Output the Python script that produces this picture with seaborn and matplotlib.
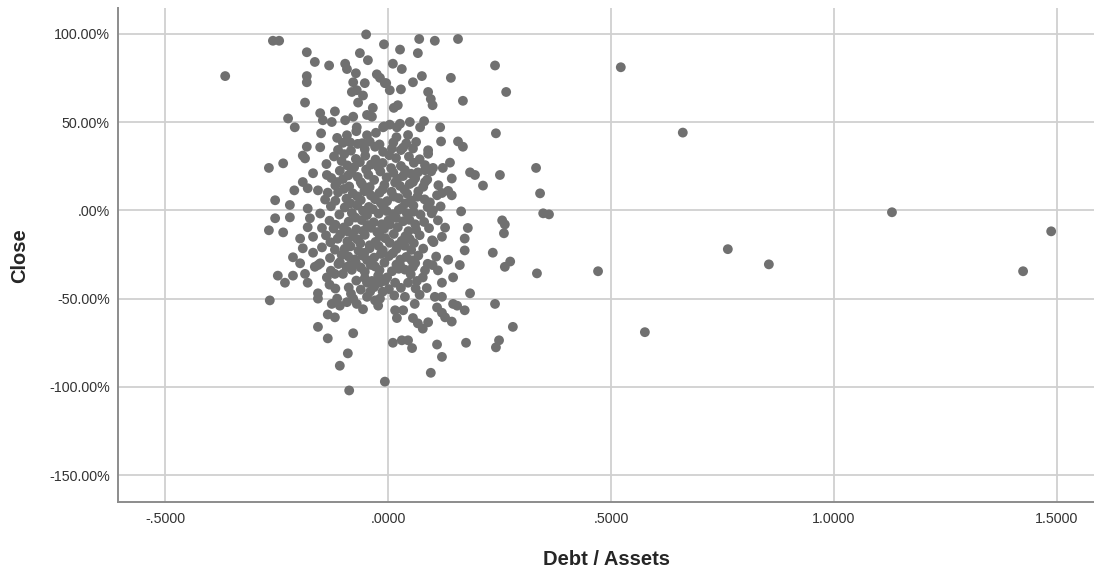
import matplotlib
matplotlib.use("Agg")
import matplotlib.pyplot as plt
import seaborn as sns
import pandas as pd
from matplotlib.ticker import FuncFormatter

# (Debt / Assets, Close %)
upper_pts = [
    (-0.365, 76), (-0.258, 96), (-0.244, 96), (-0.049, 99.6), (-0.009, 94), (0.070, 97),
    (0.105, 96), (0.157, 97), (0.027, 91), (0.067, 89), (-0.182, 89.5), (-0.164, 84),
    (-0.132, 82), (-0.096, 83), (-0.092, 80), (-0.063, 89), (-0.045, 85), (-0.072, 77.6),
    (-0.078, 72.5), (-0.052, 72), (-0.070, 68), (-0.056, 65), (-0.081, 67), (-0.067, 61),
    (-0.025, 77), (-0.007, 72), (-0.182, 76), (-0.182, 72.5), (-0.186, 61), (-0.152, 55),
    (-0.146, 51), (-0.119, 56), (-0.126, 50), (-0.224, 52), (-0.209, 47), (-0.096, 51),
    (-0.078, 53), (-0.070, 47), (-0.047, 54), (-0.034, 58), (-0.036, 53), (-0.150, 43.6),
    (-0.114, 41), (-0.092, 42.5), (-0.085, 38.5), (-0.047, 42.5), (-0.058, 38), (-0.029, 36),
    (-0.009, 47.5), (-0.182, 36), (-0.152, 35.7),
    (0.240, 82), (0.265, 67), (0.168, 62), (0.242, 43.6), (0.141, 75), (0.011, 83),
    (0.031, 80), (0.076, 76), (0.056, 72.5), (0.029, 68.5), (0.090, 67), (0.096, 63),
    (0.100, 59.5), (0.013, 58), (0.022, 59.5), (-0.004, 72), (0.004, 68), (-0.018, 75),
    (-0.011, 47), (0.004, 48.5), (0.020, 47), (0.027, 49), (0.049, 50), (0.072, 47),
    (0.081, 50.5), (0.117, 47), (0.119, 39), (0.157, 39), (0.168, 36), (0.009, 35),
    (0.034, 35.5), (0.056, 35), (0.090, 34),
]

right_pts = [
    (0.251, 20), (0.184, 21.5), (0.195, 20), (0.213, 14), (0.143, 18), (0.135, 11),
    (0.143, 8.5), (0.164, -0.6), (0.256, -5.7), (0.262, -8), (0.260, -13), (0.179, -10),
    (0.172, -16), (0.172, -22.7), (0.112, -5.7), (0.099, -17), (0.121, -15), (0.235, -24),
    (0.274, -29), (0.135, -28), (0.161, -31), (0.090, 32), (0.139, 27), (0.123, 24),
    (0.101, 24), (0.083, 22.7), (0.067, 21.5), (0.056, 16), (0.083, 16), (0.110, 8.5),
    (0.094, 4.5), (0.101, 0),
    (0.184, -47), (0.262, -32), (0.240, -53), (0.280, -66), (0.249, -73.6), (0.242, -77.6),
    (0.175, -75), (0.110, -76), (0.121, -83), (0.096, -92), (-0.007, -97), (0.172, -56.6),
    (0.146, -53), (0.155, -54), (0.143, -63), (0.146, -38), (0.121, -41), (0.112, -34),
    (0.100, -31), (0.011, -75), (0.031, -73.6), (0.045, -73.6), (0.054, -78), (0.056, -61),
    (0.067, -64), (0.078, -67), (0.090, -63.4), (0.016, -56.6), (0.020, -61), (0.034, -56.6),
    (0.038, -49), (0.060, -53), (0.105, -49), (0.121, -49), (0.110, -55), (0.128, -60.6),
    (0.121, -58), (-0.018, -50), (-0.018, -41), (-0.002, -38), (0.016, -41), (0.045, -41),
    (0.065, -40), (0.078, -38), (0.087, -44), (0.083, -34), (0.056, -32), (0.027, -31),
]

left_pts = [
    (-0.191, 31), (-0.186, 29.4), (-0.267, 24), (-0.235, 26.6), (-0.168, 21), (-0.137, 20),
    (-0.114, 16), (-0.191, 16), (-0.210, 11.3), (-0.180, 12.5), (-0.157, 11.3), (-0.135, 10),
    (-0.253, 5.7), (-0.220, 3), (-0.253, -4.5), (-0.220, -4), (-0.180, 1), (-0.175, -4.5),
    (-0.267, -11.3), (-0.235, -12.5), (-0.197, -16), (-0.180, -9.6), (-0.168, -15), (-0.148, -10),
    (-0.191, -21.5), (-0.213, -26.6), (-0.197, -30), (-0.168, -24), (-0.148, -21), (-0.130, -27),
    (-0.108, -29.4), (-0.157, -31),
    (-0.247, -37), (-0.231, -41), (-0.213, -37), (-0.265, -51), (-0.186, -36), (-0.180, -41),
    (-0.164, -32), (-0.152, -30), (-0.157, -47), (-0.157, -50), (-0.137, -38), (-0.119, -36),
    (-0.101, -36), (-0.085, -31), (-0.126, -53), (-0.114, -50), (-0.108, -54), (-0.092, -52),
    (-0.078, -50), (-0.070, -53), (-0.056, -56), (-0.047, -49), (-0.040, -46), (-0.029, -51),
    (-0.022, -54), (-0.047, -41), (-0.036, -40), (-0.022, -37), (-0.007, -40), (-0.135, -59),
    (-0.119, -60.6), (-0.157, -66), (-0.135, -72.5), (-0.078, -69.6), (-0.090, -81),
    (-0.108, -88), (-0.087, -102),
]

# dense middle, estimated
core_pts = [
    (-0.121, 30.5), (-0.098, 31.8), (-0.072, 29.1), (-0.051, 30.9), (-0.028, 28.7), (0.003, 31.2),
    (0.018, 29.6), (0.047, 30.4), (0.071, 28.9), (-0.138, 26.2), (-0.091, 25.4), (-0.063, 27.3),
    (-0.038, 25.9), (-0.012, 26.8), (0.029, 25.1), (0.058, 26.9), (0.083, 25.6), (-0.108, 22.4),
    (-0.082, 21.6), (-0.049, 23.1), (-0.017, 22.0), (0.012, 21.3), (0.038, 22.8), (0.052, 20.7),
    (0.097, 22.1), (-0.127, 18.3), (-0.101, 17.7), (-0.068, 18.9), (-0.031, 17.2), (-0.003, 18.6),
    (0.021, 17.9), (0.061, 18.1), (0.088, 17.4), (-0.118, 14.1), (-0.087, 13.5), (-0.058, 14.7),
    (-0.041, 13.2), (-0.008, 14.4), (0.027, 13.8), (0.049, 14.9), (0.079, 13.3), (0.113, 14.2),
    (-0.112, 10.2), (-0.079, 9.6), (-0.053, 10.8), (-0.019, 9.9), (0.008, 10.5), (0.043, 9.4),
    (0.068, 10.7), (0.121, 9.8), (-0.141, 6.1), (-0.118, 5.4), (-0.093, 6.6), (-0.061, 5.8),
    (-0.029, 6.3), (-0.002, 5.2), (0.024, 6.9), (0.051, 5.6), (0.082, 6.2), (-0.128, 2.3),
    (-0.097, 1.6), (-0.069, 2.8), (-0.043, 1.9), (-0.011, 2.5), (0.031, 1.4), (0.057, 2.7),
    (0.089, 1.8), (0.118, 2.2), (-0.152, -1.8), (-0.109, -2.4), (-0.081, -1.5), (-0.047, -2.7),
    (-0.021, -1.9), (0.011, -2.2), (0.042, -1.6), (0.073, -2.5), (0.098, -1.7), (-0.131, -5.9),
    (-0.088, -6.4), (-0.059, -5.5), (-0.032, -6.8), (0.001, -5.7), (0.034, -6.2), (0.048, -5.4),
    (0.081, -6.6), (-0.122, -10.3), (-0.099, -9.7), (-0.071, -10.8), (-0.038, -9.9), (-0.009, -10.4),
    (0.022, -9.6), (0.063, -10.9), (0.092, -10.1), (0.128, -9.8), (-0.139, -14.2), (-0.107, -13.6),
    (-0.078, -14.8), (-0.052, -13.9), (-0.018, -14.5), (0.013, -13.4), (0.039, -14.7), (0.071, -14.1),
    (-0.129, -18.1), (-0.091, -17.6), (-0.062, -18.7), (-0.028, -17.9), (0.004, -18.4), (0.031, -17.3),
    (0.058, -18.6), (0.102, -18.0), (-0.119, -22.3), (-0.097, -21.8), (-0.066, -22.9), (-0.041, -21.5),
    (-0.012, -22.6), (0.019, -21.9), (0.052, -22.4), (0.079, -21.7), (-0.089, -26.1), (-0.057, -25.7),
    (-0.031, -26.8), (0.002, -25.9), (0.041, -26.4), (0.068, -25.6), (0.108, -26.2), (-0.111, -30.4),
    (-0.072, -29.8), (-0.039, -30.9), (-0.008, -29.6), (0.019, -30.7), (0.061, -29.9), (0.089, -30.3),
    (-0.128, -34.2), (-0.081, -33.7), (-0.052, -34.8), (-0.019, -33.9), (0.009, -34.5), (0.038, -33.6),
    (-0.118, -44.3), (-0.088, -43.7), (-0.061, -44.9), (-0.031, -43.5), (0.002, -44.6), (0.029, -43.9),
    (0.062, -44.2), (-0.101, 38.2), (-0.068, 37.6), (-0.041, 38.9), (-0.019, 37.3), (0.012, 38.4),
    (0.041, 37.9), (0.063, 38.7),
]

core_extra_pts = [
    (-0.104, 27.9), (-0.076, 24.3), (-0.044, 20.1), (-0.022, 24.6), (0.007, 23.9), (0.034, 19.4),
    (-0.089, 19.8), (-0.061, 15.9), (-0.012, 11.8), (0.016, 15.7), (0.037, 11.6), (-0.099, 12.1),
    (-0.069, 7.9), (-0.038, 8.4), (-0.016, 4.1), (0.013, 7.8), (0.039, 3.9), (0.066, 7.7),
    (-0.084, 3.9), (-0.056, -0.3), (-0.034, 0.6), (-0.003, -0.4), (0.024, 0.2), (0.057, -0.8),
    (-0.118, -8.2), (-0.073, -4.1), (-0.046, -8.3), (-0.014, -7.9), (0.018, -4.3), (0.061, -7.9),
    (-0.091, -11.9), (-0.056, -11.7), (-0.024, -12.3), (0.004, -8.1), (0.046, -11.8), (-0.113, -16.1),
    (-0.069, -16.4), (-0.041, -19.8), (-0.006, -15.8), (0.022, -19.6), (0.049, -16.3), (-0.084, -20.4),
    (-0.053, -24.1), (-0.021, -20.2), (0.011, -24.3), (0.037, -20.1), (-0.104, -25.2), (-0.074, -27.8),
    (-0.047, -28.1), (-0.016, -24.7), (0.028, -27.9), (0.053, -28.3), (-0.093, -32.1), (-0.061, -32.4),
    (-0.029, -31.8), (0.024, -33.1), (-0.071, -39.8), (-0.012, -46.1), (0.014, -48.2), (-0.083, -47.2),
    (-0.052, -38.4), (0.051, -36.2), (0.071, -47.8), (-0.131, -42.1), (-0.083, 33.8), (-0.052, 34.6),
    (-0.011, 33.1), (0.029, 34.1), (-0.027, 43.9), (0.045, 42.6), (0.019, 41.4), (-0.071, 44.8),
    (-0.112, 34.2),
]

far_pts = [
    (0.332, 24), (0.341, 9.6), (0.348, -1.7), (0.361, -2.3), (0.334, -35.7), (0.471, -34.5),
    (0.522, 81), (0.576, -69), (0.661, 44), (0.762, -22), (0.854, -30.6), (1.130, -1.1),
    (1.424, -34.5), (1.487, -11.9),
]

x_ticks = [-0.5, 0.0, 0.5, 1.0, 1.5]
y_ticks = [-150, -100, -50, 0, 50, 100]

df = pd.DataFrame(upper_pts + right_pts + left_pts + core_pts + core_extra_pts + far_pts,
                  columns=["Debt / Assets", "Close"])

sns.set_theme(style="whitegrid")
plt.rcParams["font.family"] = ["Liberation Sans", "DejaVu Sans"]

fig = plt.figure(figsize=(10.94, 5.74), dpi=100)
ax = fig.add_axes([0.108, 0.125, 0.892, 0.8606])

sns.scatterplot(data=df, x="Debt / Assets", y="Close", ax=ax,
                color="#707070", s=50, edgecolor="none", linewidth=0)

ax.set_xlim(-0.605, 1.583)
ax.set_ylim(-165.3, 114.4)
ax.set_xticks(x_ticks)
ax.set_yticks(y_ticks)


def fmt_x(v, pos):
    s = f"{v:.4f}"
    return s.replace("0.", ".", 1) if abs(v) < 1 else s


def fmt_y(v, pos):
    s = f"{v:.2f}%"
    return s.replace("0.", ".", 1) if abs(v) < 1 else s


ax.xaxis.set_major_formatter(FuncFormatter(fmt_x))
ax.yaxis.set_major_formatter(FuncFormatter(fmt_y))

ax.grid(True, color="#d0d0d0", linewidth=1.3)
ax.tick_params(axis="both", length=0, labelsize=10.3, colors="#333333")
ax.tick_params(axis="y", pad=6)
ax.tick_params(axis="x", pad=7)

for side in ["top", "right"]:
    ax.spines[side].set_visible(False)
for side in ["left", "bottom"]:
    ax.spines[side].set_color("#8c8c8c")
    ax.spines[side].set_linewidth(1.4)

ax.set_xlabel("Debt / Assets", fontsize=14.5, fontweight="bold", labelpad=17)
ax.set_ylabel("Close", fontsize=14.5, fontweight="bold", labelpad=14)

fig.savefig("out.png", dpi=100)
